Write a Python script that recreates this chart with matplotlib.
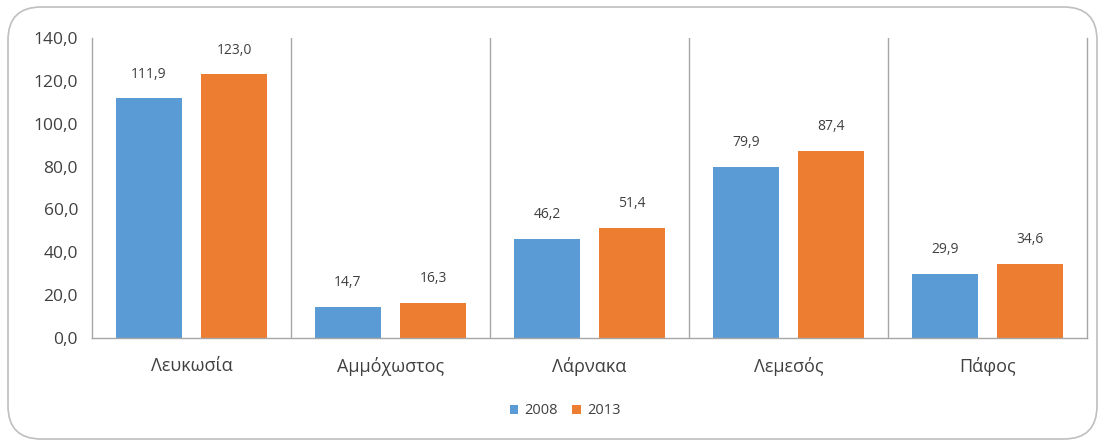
import numpy as np
import matplotlib.pyplot as plt
from matplotlib.patches import FancyBboxPatch

cities = ["Λευκωσία", "Αμμόχωστος", "Λάρνακα", "Λεμεσός", "Πάφος"]
vals_2008 = [111.9, 14.7, 46.2, 79.9, 29.9]
vals_2013 = [123.0, 16.3, 51.4, 87.4, 34.6]
years = ["2008", "2013"]

blue = '#5B9BD5'
orange = '#ED7D31'
plt.rcParams['font.family'] = ['Open Sans', 'DejaVu Sans']

fig = plt.figure(figsize=(11.05, 4.41), dpi=100)
ax = fig.add_axes([92/1105, 1-338/441, 995/1105, 300/441])

x = np.arange(len(cities))
w = 0.327
off = 0.2135
b1 = ax.bar(x - off, vals_2008, w, color=blue, label=years[0])
b2 = ax.bar(x + off, vals_2013, w, color=orange, label=years[1])

def fmt(v):
    return f"{v:.1f}".replace('.', ',')

for bars, vals in ((b1, vals_2008), (b2, vals_2013)):
    for r, v in zip(bars, vals):
        ax.annotate(fmt(v), (r.get_x() + r.get_width()/2, v), xytext=(0, 12),
                    textcoords='offset points', ha='center', va='bottom',
                    fontsize=10, color='#404040')

ax.set_xlim(-0.5, len(cities) - 0.5)
ax.set_ylim(0, 140)
ax.set_yticks(np.arange(0, 141, 20))
ax.set_yticklabels([fmt(t) for t in np.arange(0, 141, 20)])
ax.set_xticks(x)
ax.set_xticklabels(cities)
ax.tick_params(axis='both', length=0, labelsize=12.5, colors='#404040')
ax.tick_params(axis='x', labelsize=13, pad=14)
ax.tick_params(axis='y', pad=10)

ax.spines['top'].set_visible(False)
for s in ['left', 'right', 'bottom']:
    ax.spines[s].set_color('#A6A6A6')
    ax.spines[s].set_linewidth(1)
for i in range(1, len(cities)):
    ax.axvline(i - 0.5, color='#A6A6A6', lw=1)

fig.legend(handles=[b1, b2], labels=years, loc='center', bbox_to_anchor=(565/1105, 1-411/441),
           ncol=2, frameon=False, fontsize=10.5, handlelength=0.6, handleheight=0.6,
           columnspacing=1.0, handletextpad=0.4, labelcolor='#404040')

border = FancyBboxPatch((8/1105, 2/441), 1089/1105, 432/441,
                        boxstyle="round,pad=0,rounding_size=0.03",
                        transform=fig.transFigure, fill=False, ec='#BFBFBF', lw=1.2,
                        mutation_aspect=1105/441)
fig.patches.append(border)

fig.savefig('out.png', dpi=100)
